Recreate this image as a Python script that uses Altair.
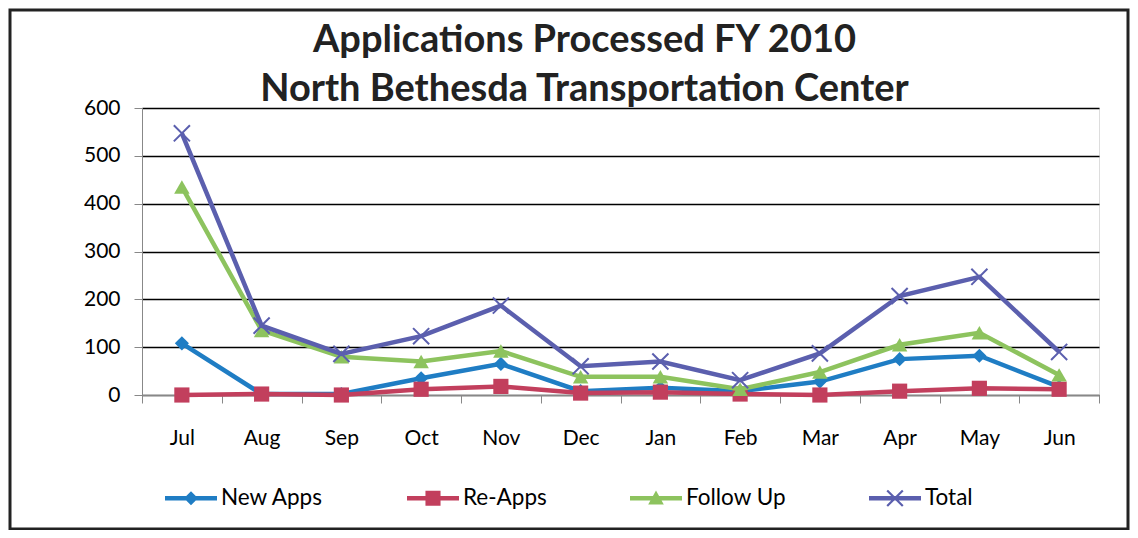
import altair as alt
import pandas as pd

months = ["Jul", "Aug", "Sep", "Oct", "Nov", "Dec", "Jan", "Feb", "Mar", "Apr", "May", "Jun"]
series_names = ["New Apps", "Re-Apps", "Follow Up", "Total"]
new_apps = [108, 2, 2, 35, 65, 8, 15, 8, 28, 75, 82, 17]
re_apps = [0, 2, 0, 12, 18, 4, 6, 2, 0, 8, 14, 12]
follow_up = [435, 135, 80, 70, 92, 38, 38, 12, 48, 105, 130, 42]
total = [547, 145, 86, 123, 187, 60, 70, 31, 87, 207, 247, 90]
y_ticks = [0, 100, 200, 300, 400, 500, 600]
title_lines = ["Applications Processed FY 2010", "North Bethesda Transportation Center"]
colors = ["#1f7dc4", "#c23f5d", "#8dc35e", "#5b5fae"]

rows = []
for name, vals in zip(series_names, [new_apps, re_apps, follow_up, total]):
    for m, v in zip(months, vals):
        rows.append({"month": m, "series": name, "value": v})
df = pd.DataFrame(rows)

FONT = "Lato"

x_enc = alt.X(
    "month:N",
    sort=months,
    scale=alt.Scale(type="band", domain=months, paddingInner=0, paddingOuter=0),
    axis=alt.Axis(
        title=None, labelAngle=0, tickBand="extent", grid=False,
        domainColor="#888888", tickColor="#888888", tickSize=8, labelPadding=24,
        labelFont=FONT, labelFontSize=21, labelColor="black",
    ),
)
y_enc = alt.Y(
    "value:Q",
    scale=alt.Scale(domain=[0, 600], nice=False),
    axis=alt.Axis(
        values=y_ticks, title=None, grid=True, gridColor="black", gridWidth=1.5,
        domainColor="#888888", tickColor="#888888", tickSize=8, labelPadding=14,
        labelFont=FONT, labelFontSize=21, labelColor="black",
    ),
)

x_path = "M-1,-1L1,1M-1,1L1,-1"
marker_specs = [
    dict(shape="diamond", size=200, filled=True, strokeWidth=0),
    dict(shape="square", size=230, filled=True, strokeWidth=0),
    dict(shape="triangle-up", size=240, filled=True, strokeWidth=0),
    dict(shape=x_path, size=260, filled=False, strokeWidth=2),
]

# legend symbols: line + marker, in unit [-1,1] coordinates
bar = "M-1,-0.085H1V0.085H-1Z"
d = 0.03
a = 0.3
x_sym = (f"M{-a+d},{-a-d}L{a+d},{a-d}L{a-d},{a+d}L{-a-d},{-a+d}Z"
         f"M{a-d},{-a-d}L{a+d},{-a+d}L{-a+d},{a+d}L{-a-d},{a-d}Z")
legend_paths = [
    bar + "M0,-0.27L0.27,0L0,0.27L-0.27,0Z",
    bar + "M-0.29,-0.29H0.29V0.29H-0.29Z",
    bar + "M0,-0.3L0.3,0.24L-0.3,0.24Z",
    bar + x_sym,
]

layers = []
for name, col, spec in zip(series_names, colors, marker_specs):
    base = alt.Chart(df).transform_filter(alt.datum.series == name)
    layers.append(base.mark_line(strokeWidth=4.5, color=col).encode(x=x_enc, y=y_enc))
    layers.append(base.mark_point(color=col, opacity=1, **spec).encode(x=x_enc, y=y_enc))

leg = alt.Legend(
    title=None, orient="none", legendX=23, legendY=364, direction="horizontal",
    columns=4, symbolSize=2704, symbolOpacity=1, symbolStrokeWidth=0,
    labelFont=FONT, labelFontSize=22.5, labelColor="black", labelOffset=4,
    columnPadding=83,
)
legend_layer = alt.Chart(df).mark_point(filled=True, opacity=0).encode(
    x=x_enc, y=y_enc,
    fill=alt.Fill("series:N", scale=alt.Scale(domain=series_names, range=colors), legend=leg),
    shape=alt.Shape("series:N", scale=alt.Scale(domain=series_names, range=legend_paths), legend=leg),
)
layers.append(legend_layer)

border = alt.Chart(pd.DataFrame({"k": [0]})).mark_rect(
    fill=None, stroke="#222222", strokeWidth=3, clip=False
).encode(x=alt.value(-132), x2=alt.value(986), y=alt.value(-98), y2=alt.value(421))
layers.append(border)

chart = alt.layer(*layers).properties(
    width=957, height=287,
    title=alt.TitleParams(
        text=title_lines, font=FONT, fontSize=38, fontWeight="bold", color="#222222",
        lineHeight=49, anchor="middle", dx=-36, offset=-100,
    ),
    autosize=alt.AutoSizeParams(type="none"),
    padding={"left": 134, "top": 100, "right": 31, "bottom": 135},
).configure_view(stroke=None).configure(background="white")

chart.save("out.html", embed_options={"renderer": "svg", "actions": False})
